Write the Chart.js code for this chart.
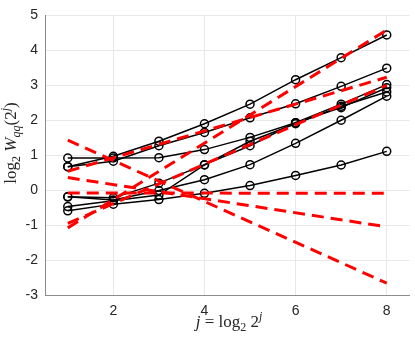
<!DOCTYPE html>
<html>
<head>
<meta charset="utf-8">
<script src="https://cdn.jsdelivr.net/npm/chart.js@4/dist/chart.umd.min.js"></script>
<style>
  body { margin: 0; background: #fff; }
  #wrap { width: 415px; height: 340px; }
</style>
</head>
<body>
<div id="wrap"><canvas id="wqqChart" width="415" height="340"></canvas></div>
<script>
// scales j = 1..8
var scalesJ = [1, 2, 3, 4, 5, 6, 7, 8];

// log2 Wqq(2^j), one curve per q (black, circles)
var curve1 = [0.67, 0.97, 1.40, 1.90, 2.46, 3.16, 3.79, 4.44];
var curve2 = [0.67, 0.83, 1.27, 1.65, 2.07, 2.47, 2.97, 3.49];
var curve3 = [0.92, 0.92, 0.93, 1.16, 1.51, 1.93, 2.46, 3.02];
var curve4 = [-0.19, -0.22, 0.20, 0.73, 1.27, 1.93, 2.36, 2.93];
var curve5 = [-0.19, -0.28, -0.01, 0.30, 0.73, 1.34, 2.00, 2.69];
var curve6 = [-0.47, -0.30, -0.14, 0.72, 1.40, 1.90, 2.40, 2.81];
var curve7 = [-0.59, -0.40, -0.27, -0.09, 0.13, 0.42, 0.72, 1.11];

// linear fits (red dashed), values at j = 1 and j = 8
var fitJ = [1, 8];
var fit1 = [-1.08, 4.58];
var fit2 = [0.54, 3.23];
var fit3 = [-0.95, 3.00];
var fit4 = [-0.08, -0.09];
var fit5 = [0.36, -1.05];
var fit6 = [1.43, -2.66];

var xTicks = [2, 4, 6, 8];
var yTicks = [-3, -2, -1, 0, 1, 2, 3, 4, 5];

function toPoints(xs, ys){
	return xs.map(function(x, i){ return {x: x, y: ys[i]}; });
}

function curveSet(ys){
	return {
		data: toPoints(scalesJ, ys),
		borderColor: '#000',
		borderWidth: 1.5,
		pointStyle: 'circle',
		pointRadius: 4,
		pointBorderWidth: 1.5,
		pointBorderColor: '#000',
		pointBackgroundColor: 'rgba(0,0,0,0)',
		tension: 0,
		order: 1
	};
}

function fitSet(ys){
	return {
		data: toPoints(fitJ, ys),
		borderColor: 'rgb(255,0,0)',
		borderWidth: 3,
		borderDash: [12, 7],
		pointRadius: 0,
		tension: 0,
		order: 0
	};
}

// axis titles with sub/superscripts, drawn on the canvas
function drawParts(ctx, parts, x, y){
	parts.forEach(function(p){
		ctx.font = p.font;
		ctx.fillText(p.t, x, y + (p.dy || 0));
		x += ctx.measureText(p.t).width;
	});
}
function partsWidth(ctx, parts){
	var w = 0;
	parts.forEach(function(p){ ctx.font = p.font; w += ctx.measureText(p.t).width; });
	return w;
}

var serif = '"Liberation Serif", "DejaVu Serif", serif';
var axisTitles = {
	id: 'axisTitles',
	afterDraw: function(chart){
		var ctx = chart.ctx;
		ctx.save();
		ctx.fillStyle = '#262626';
		ctx.textBaseline = 'alphabetic';
		ctx.textAlign = 'left';

		var xParts = [
			{t: 'j', font: 'italic 17px ' + serif},
			{t: ' = log', font: '17px ' + serif},
			{t: '2', font: '12px ' + serif, dy: 4},
			{t: ' 2', font: '17px ' + serif},
			{t: 'j', font: 'italic 12px ' + serif, dy: -7}
		];
		var wx = partsWidth(ctx, xParts);
		drawParts(ctx, xParts, 229 - wx / 2, 327);

		var yParts = [
			{t: 'log', font: '17px ' + serif},
			{t: '2', font: '12px ' + serif, dy: 4},
			{t: ' W', font: 'italic 17px ' + serif},
			{t: 'qq', font: 'italic 12px ' + serif, dy: 4},
			{t: '(2', font: '17px ' + serif},
			{t: 'j', font: 'italic 12px ' + serif, dy: -7},
			{t: ')', font: '17px ' + serif}
		];
		var wy = partsWidth(ctx, yParts);
		ctx.translate(16, 143);
		ctx.rotate(-Math.PI / 2);
		drawParts(ctx, yParts, -wy / 2, 0);
		ctx.restore();
	}
};

var datasets = [
	fitSet(fit1), fitSet(fit2), fitSet(fit3), fitSet(fit4), fitSet(fit5), fitSet(fit6),
	curveSet(curve1), curveSet(curve2), curveSet(curve3), curveSet(curve4),
	curveSet(curve5), curveSet(curve6), curveSet(curve7)
];

var tickFont = {family: '"Liberation Sans", Arial, sans-serif', size: 14};

new Chart(document.getElementById('wqqChart'), {
	type: 'line',
	data: {datasets: datasets},
	plugins: [axisTitles],
	options: {
		responsive: false,
		animation: false,
		layout: {padding: {left: 0, right: 0, top: 8, bottom: 0}},
		plugins: {legend: {display: false}, tooltip: {enabled: false}},
		scales: {
			x: {
				type: 'linear',
				min: 0.5,
				max: 8.5,
				afterBuildTicks: function(scale){
					scale.ticks = xTicks.map(function(v){ return {value: v}; });
				},
				afterFit: function(scale){ scale.height = 45; },
				grid: {color: '#e8e8e8', lineWidth: 1, drawTicks: false},
				border: {color: '#8c8c8c', width: 1},
				ticks: {color: '#262626', font: tickFont, padding: 8, maxRotation: 0}
			},
			y: {
				type: 'linear',
				min: -3,
				max: 5,
				afterBuildTicks: function(scale){
					scale.ticks = yTicks.map(function(v){ return {value: v}; });
				},
				afterFit: function(scale){ scale.width = 45; },
				grid: {color: '#e8e8e8', lineWidth: 1, drawTicks: false},
				border: {color: '#8c8c8c', width: 1},
				ticks: {color: '#262626', font: tickFont, padding: 7}
			}
		}
	}
});
</script>
</body>
</html>
